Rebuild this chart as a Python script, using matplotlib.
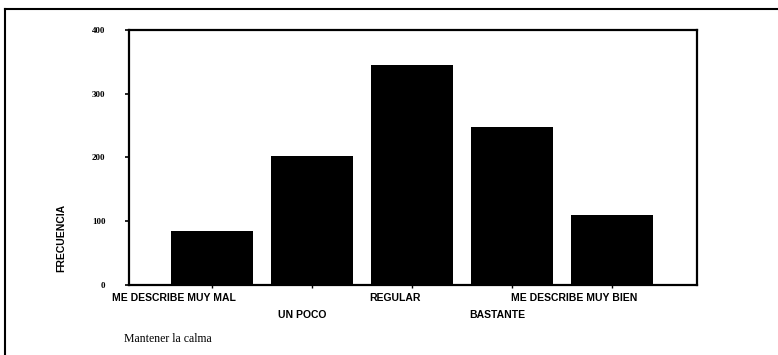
import matplotlib
matplotlib.use("Agg")
import matplotlib.pyplot as plt
from matplotlib.lines import Line2D

# data
categorias = ["ME DESCRIBE MUY MAL", "UN POCO", "REGULAR", "BASTANTE", "ME DESCRIBE MUY BIEN"]
frecuencia = [85, 202, 345, 248, 110]
y_ticks = [0, 100, 200, 300, 400]

# label placement (staggered, as in the scan)
label_shift = [-0.38, -0.10, -0.17, -0.15, -0.38]
label_row = [0, 1, 0, 1, 0]

fig = plt.figure(figsize=(7.78, 3.55), dpi=100)
ax = fig.add_axes([0.1658, 0.1972, 0.7301, 0.7183])

x = list(range(len(categorias)))
ax.bar(x, frecuencia, width=0.82, color="black")

ax.set_xlim(-0.83, 4.85)
ax.set_ylim(0, 400)
ax.set_yticks(y_ticks)
ax.set_yticklabels([str(v) for v in y_ticks], fontsize=6.5, fontweight="bold",
                   family="Liberation Serif")
ax.set_xticks(x)
ax.set_xticklabels([])
ax.tick_params(axis="y", direction="out", length=3, width=1.2, pad=14)
ax.tick_params(axis="x", direction="out", length=2, width=1.0)
for s in ax.spines.values():
    s.set_linewidth(1.6)

# category labels in two rows under the axis
for i, lab in enumerate(categorias):
    ax.text(i + label_shift[i], -20 - 27 * label_row[i], lab, ha="center", va="center",
            fontsize=7.5, fontweight="bold", family="Liberation Sans")

fig.text(61 / 778, 1 - 238 / 355, "FRECUENCIA", rotation=90, ha="center", va="center",
         fontsize=7.5, fontweight="bold", family="Liberation Sans")
fig.text(124 / 778, 1 - 339 / 355, "Mantener la calma", ha="left", va="center",
         fontsize=8.5, family="Liberation Serif")

# outer frame of the scanned page (top and left edges)
fig.add_artist(Line2D([5 / 778, 1.0], [1 - 9 / 355, 1 - 9 / 355], color="black", lw=1.5,
                      transform=fig.transFigure))
fig.add_artist(Line2D([5 / 778, 5 / 778], [1 - 9 / 355, 0.0], color="black", lw=1.5,
                      transform=fig.transFigure))

fig.savefig("out.png", dpi=100)
